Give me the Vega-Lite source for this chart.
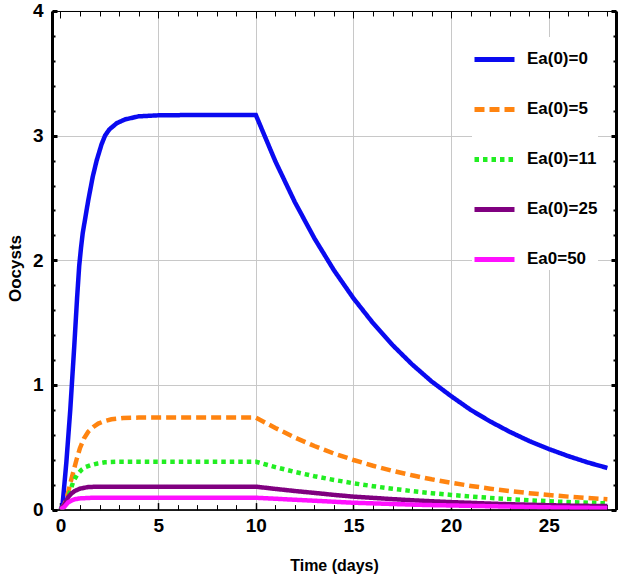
{
  "$schema": "https://vega.github.io/schema/vega-lite/v6.json",
  "width": 564,
  "height": 498.6,
  "autosize": {"type": "none"},
  "padding": {"left": 52, "top": 11, "right": 3, "bottom": 68},
  "background": "white",
  "config": {
    "view": {"stroke": "black", "strokeWidth": 1},
    "font": "Liberation Sans, Arial, sans-serif"
  },
  "data": {"values": [
    {"t": 0, "v": 0, "s": "Ea(0)=0"},
    {"t": 0.1, "v": 0.03, "s": "Ea(0)=0"},
    {"t": 0.3, "v": 0.38, "s": "Ea(0)=0"},
    {"t": 0.5, "v": 0.8, "s": "Ea(0)=0"},
    {"t": 0.7, "v": 1.3, "s": "Ea(0)=0"},
    {"t": 0.85, "v": 1.7, "s": "Ea(0)=0"},
    {"t": 0.96, "v": 1.96, "s": "Ea(0)=0"},
    {"t": 1.05, "v": 2.1, "s": "Ea(0)=0"},
    {"t": 1.14, "v": 2.22, "s": "Ea(0)=0"},
    {"t": 1.42, "v": 2.48, "s": "Ea(0)=0"},
    {"t": 1.65, "v": 2.67, "s": "Ea(0)=0"},
    {"t": 1.85, "v": 2.8, "s": "Ea(0)=0"},
    {"t": 2.1, "v": 2.93, "s": "Ea(0)=0"},
    {"t": 2.28, "v": 3.0, "s": "Ea(0)=0"},
    {"t": 2.5, "v": 3.05, "s": "Ea(0)=0"},
    {"t": 2.88, "v": 3.1, "s": "Ea(0)=0"},
    {"t": 3.3, "v": 3.13, "s": "Ea(0)=0"},
    {"t": 4, "v": 3.155, "s": "Ea(0)=0"},
    {"t": 5, "v": 3.163, "s": "Ea(0)=0"},
    {"t": 7, "v": 3.166, "s": "Ea(0)=0"},
    {"t": 10, "v": 3.166, "s": "Ea(0)=0"},
    {"t": 11, "v": 2.794, "s": "Ea(0)=0"},
    {"t": 12, "v": 2.466, "s": "Ea(0)=0"},
    {"t": 13, "v": 2.176, "s": "Ea(0)=0"},
    {"t": 14, "v": 1.92, "s": "Ea(0)=0"},
    {"t": 15, "v": 1.695, "s": "Ea(0)=0"},
    {"t": 16, "v": 1.496, "s": "Ea(0)=0"},
    {"t": 17, "v": 1.32, "s": "Ea(0)=0"},
    {"t": 18, "v": 1.165, "s": "Ea(0)=0"},
    {"t": 19, "v": 1.028, "s": "Ea(0)=0"},
    {"t": 20, "v": 0.91, "s": "Ea(0)=0"},
    {"t": 21, "v": 0.8, "s": "Ea(0)=0"},
    {"t": 22, "v": 0.707, "s": "Ea(0)=0"},
    {"t": 23, "v": 0.624, "s": "Ea(0)=0"},
    {"t": 24, "v": 0.55, "s": "Ea(0)=0"},
    {"t": 25, "v": 0.486, "s": "Ea(0)=0"},
    {"t": 26, "v": 0.429, "s": "Ea(0)=0"},
    {"t": 27, "v": 0.378, "s": "Ea(0)=0"},
    {"t": 28, "v": 0.334, "s": "Ea(0)=0"},

    {"t": 0, "v": 0, "s": "Ea(0)=5"},
    {"t": 0.2, "v": 0.04, "s": "Ea(0)=5"},
    {"t": 0.36, "v": 0.117, "s": "Ea(0)=5"},
    {"t": 0.5, "v": 0.21, "s": "Ea(0)=5"},
    {"t": 0.65, "v": 0.3, "s": "Ea(0)=5"},
    {"t": 0.82, "v": 0.4, "s": "Ea(0)=5"},
    {"t": 0.99, "v": 0.49, "s": "Ea(0)=5"},
    {"t": 1.2, "v": 0.57, "s": "Ea(0)=5"},
    {"t": 1.42, "v": 0.625, "s": "Ea(0)=5"},
    {"t": 1.7, "v": 0.665, "s": "Ea(0)=5"},
    {"t": 1.93, "v": 0.69, "s": "Ea(0)=5"},
    {"t": 2.3, "v": 0.712, "s": "Ea(0)=5"},
    {"t": 2.61, "v": 0.725, "s": "Ea(0)=5"},
    {"t": 3.2, "v": 0.735, "s": "Ea(0)=5"},
    {"t": 4, "v": 0.738, "s": "Ea(0)=5"},
    {"t": 10, "v": 0.738, "s": "Ea(0)=5"},
    {"t": 11, "v": 0.655, "s": "Ea(0)=5"},
    {"t": 12, "v": 0.578, "s": "Ea(0)=5"},
    {"t": 13, "v": 0.51, "s": "Ea(0)=5"},
    {"t": 14, "v": 0.45, "s": "Ea(0)=5"},
    {"t": 15, "v": 0.398, "s": "Ea(0)=5"},
    {"t": 16, "v": 0.352, "s": "Ea(0)=5"},
    {"t": 17, "v": 0.311, "s": "Ea(0)=5"},
    {"t": 18, "v": 0.275, "s": "Ea(0)=5"},
    {"t": 19, "v": 0.243, "s": "Ea(0)=5"},
    {"t": 20, "v": 0.215, "s": "Ea(0)=5"},
    {"t": 21, "v": 0.19, "s": "Ea(0)=5"},
    {"t": 22, "v": 0.168, "s": "Ea(0)=5"},
    {"t": 23, "v": 0.149, "s": "Ea(0)=5"},
    {"t": 24, "v": 0.132, "s": "Ea(0)=5"},
    {"t": 25, "v": 0.117, "s": "Ea(0)=5"},
    {"t": 26, "v": 0.104, "s": "Ea(0)=5"},
    {"t": 27, "v": 0.093, "s": "Ea(0)=5"},
    {"t": 28, "v": 0.083, "s": "Ea(0)=5"},

    {"t": 0, "v": 0, "s": "Ea(0)=11"},
    {"t": 0.15, "v": 0.02, "s": "Ea(0)=11"},
    {"t": 0.31, "v": 0.063, "s": "Ea(0)=11"},
    {"t": 0.48, "v": 0.14, "s": "Ea(0)=11"},
    {"t": 0.65, "v": 0.224, "s": "Ea(0)=11"},
    {"t": 0.85, "v": 0.28, "s": "Ea(0)=11"},
    {"t": 1.07, "v": 0.318, "s": "Ea(0)=11"},
    {"t": 1.3, "v": 0.342, "s": "Ea(0)=11"},
    {"t": 1.58, "v": 0.358, "s": "Ea(0)=11"},
    {"t": 1.9, "v": 0.37, "s": "Ea(0)=11"},
    {"t": 2.27, "v": 0.38, "s": "Ea(0)=11"},
    {"t": 3, "v": 0.384, "s": "Ea(0)=11"},
    {"t": 10, "v": 0.384, "s": "Ea(0)=11"},
    {"t": 11, "v": 0.341, "s": "Ea(0)=11"},
    {"t": 12, "v": 0.302, "s": "Ea(0)=11"},
    {"t": 13, "v": 0.268, "s": "Ea(0)=11"},
    {"t": 14, "v": 0.238, "s": "Ea(0)=11"},
    {"t": 15, "v": 0.211, "s": "Ea(0)=11"},
    {"t": 16, "v": 0.188, "s": "Ea(0)=11"},
    {"t": 17, "v": 0.167, "s": "Ea(0)=11"},
    {"t": 18, "v": 0.148, "s": "Ea(0)=11"},
    {"t": 19, "v": 0.132, "s": "Ea(0)=11"},
    {"t": 20, "v": 0.118, "s": "Ea(0)=11"},
    {"t": 21, "v": 0.105, "s": "Ea(0)=11"},
    {"t": 22, "v": 0.094, "s": "Ea(0)=11"},
    {"t": 23, "v": 0.084, "s": "Ea(0)=11"},
    {"t": 24, "v": 0.075, "s": "Ea(0)=11"},
    {"t": 25, "v": 0.067, "s": "Ea(0)=11"},
    {"t": 26, "v": 0.06, "s": "Ea(0)=11"},
    {"t": 27, "v": 0.055, "s": "Ea(0)=11"},
    {"t": 28, "v": 0.05, "s": "Ea(0)=11"},

    {"t": 0, "v": 0, "s": "Ea(0)=25"},
    {"t": 0.2, "v": 0.035, "s": "Ea(0)=25"},
    {"t": 0.39, "v": 0.1, "s": "Ea(0)=25"},
    {"t": 0.55, "v": 0.128, "s": "Ea(0)=25"},
    {"t": 0.73, "v": 0.149, "s": "Ea(0)=25"},
    {"t": 1.0, "v": 0.168, "s": "Ea(0)=25"},
    {"t": 1.42, "v": 0.181, "s": "Ea(0)=25"},
    {"t": 2, "v": 0.184, "s": "Ea(0)=25"},
    {"t": 10, "v": 0.184, "s": "Ea(0)=25"},
    {"t": 11, "v": 0.166, "s": "Ea(0)=25"},
    {"t": 12, "v": 0.149, "s": "Ea(0)=25"},
    {"t": 13, "v": 0.134, "s": "Ea(0)=25"},
    {"t": 14, "v": 0.118, "s": "Ea(0)=25"},
    {"t": 15, "v": 0.104, "s": "Ea(0)=25"},
    {"t": 16, "v": 0.094, "s": "Ea(0)=25"},
    {"t": 17, "v": 0.084, "s": "Ea(0)=25"},
    {"t": 18, "v": 0.075, "s": "Ea(0)=25"},
    {"t": 19, "v": 0.067, "s": "Ea(0)=25"},
    {"t": 20, "v": 0.06, "s": "Ea(0)=25"},
    {"t": 21, "v": 0.054, "s": "Ea(0)=25"},
    {"t": 22, "v": 0.048, "s": "Ea(0)=25"},
    {"t": 23, "v": 0.043, "s": "Ea(0)=25"},
    {"t": 24, "v": 0.039, "s": "Ea(0)=25"},
    {"t": 25, "v": 0.035, "s": "Ea(0)=25"},
    {"t": 26, "v": 0.032, "s": "Ea(0)=25"},
    {"t": 27, "v": 0.03, "s": "Ea(0)=25"},
    {"t": 28, "v": 0.028, "s": "Ea(0)=25"},

    {"t": 0, "v": 0, "s": "Ea0=50"},
    {"t": 0.2, "v": 0.022, "s": "Ea0=50"},
    {"t": 0.39, "v": 0.058, "s": "Ea0=50"},
    {"t": 0.55, "v": 0.072, "s": "Ea0=50"},
    {"t": 0.73, "v": 0.083, "s": "Ea0=50"},
    {"t": 1.0, "v": 0.09, "s": "Ea0=50"},
    {"t": 1.5, "v": 0.094, "s": "Ea0=50"},
    {"t": 2, "v": 0.095, "s": "Ea0=50"},
    {"t": 10, "v": 0.095, "s": "Ea0=50"},
    {"t": 11, "v": 0.087, "s": "Ea0=50"},
    {"t": 12, "v": 0.079, "s": "Ea0=50"},
    {"t": 13, "v": 0.071, "s": "Ea0=50"},
    {"t": 14, "v": 0.063, "s": "Ea0=50"},
    {"t": 15, "v": 0.055, "s": "Ea0=50"},
    {"t": 16, "v": 0.05, "s": "Ea0=50"},
    {"t": 17, "v": 0.045, "s": "Ea0=50"},
    {"t": 18, "v": 0.04, "s": "Ea0=50"},
    {"t": 19, "v": 0.036, "s": "Ea0=50"},
    {"t": 20, "v": 0.033, "s": "Ea0=50"},
    {"t": 21, "v": 0.03, "s": "Ea0=50"},
    {"t": 22, "v": 0.027, "s": "Ea0=50"},
    {"t": 23, "v": 0.024, "s": "Ea0=50"},
    {"t": 24, "v": 0.021, "s": "Ea0=50"},
    {"t": 25, "v": 0.018, "s": "Ea0=50"},
    {"t": 26, "v": 0.016, "s": "Ea0=50"},
    {"t": 27, "v": 0.014, "s": "Ea0=50"},
    {"t": 28, "v": 0.012, "s": "Ea0=50"}
  ]},
  "resolve": {"axis": {"x": "independent", "y": "independent"}},
  "layer": [
    {
      "mark": {"type": "line", "strokeWidth": 4.5, "strokeCap": "butt", "clip": true},
      "encoding": {
        "x": {
          "field": "t", "type": "quantitative",
          "scale": {"domain": [-0.435, 28.44], "nice": false, "zero": false},
          "axis": {
            "orient": "bottom",
            "title": "Time (days)",
            "titleFontSize": 16, "titleFontWeight": "bold", "titleColor": "black",
            "titlePadding": 22,
            "values": [0,1,2,3,4,5,6,7,8,9,10,11,12,13,14,15,16,17,18,19,20,21,22,23,24,25,26,27,28],
            "format": "d",
            "labelExpr": "datum.value % 5 === 0 ? datum.label : ''",
            "labelFontSize": 19, "labelFontWeight": "bold", "labelColor": "black",
            "labelPadding": 14,
            "labelFlush": false,
            "domainColor": "black", "domainWidth": 1.5,
            "tickColor": "black",
            "tickSize": {"condition": {"test": "datum.value % 5 === 0", "value": -7}, "value": -5},
            "tickWidth": {"condition": {"test": "datum.value % 5 === 0", "value": 1.5}, "value": 1},
            "grid": true,
            "gridColor": "#c8c8c8", "gridWidth": 1,
            "gridOpacity": {"condition": {"test": "datum.value % 5 === 0 && datum.value > 0", "value": 1}, "value": 0}
          }
        },
        "y": {
          "field": "v", "type": "quantitative",
          "scale": {"domain": [0, 4], "nice": false},
          "axis": {
            "orient": "left",
            "title": "Oocysts",
            "titleFontSize": 17, "titleFontWeight": "bold", "titleColor": "black",
            "titleX": -32,
            "titleY": 257,
            "titleBaseline": "alphabetic",
            "values": [0,0.2,0.4,0.6,0.8,1,1.2,1.4,1.6,1.8,2,2.2,2.4,2.6,2.8,3,3.2,3.4,3.6,3.8,4],
            "format": "~g",
            "labelExpr": "datum.value % 1 === 0 ? datum.label : ''",
            "labelFontSize": 19, "labelFontWeight": "bold", "labelColor": "black",
            "labelPadding": 14,
            "labelFlush": false,
            "domainColor": "black", "domainWidth": 3,
            "tickColor": "black",
            "tickSize": {"condition": {"test": "datum.value % 1 === 0", "value": -5}, "value": -3},
            "tickWidth": {"condition": {"test": "datum.value % 1 === 0", "value": 3}, "value": 2},
            "grid": true,
            "gridColor": "#c8c8c8", "gridWidth": 1,
            "gridOpacity": {"condition": {"test": "datum.value % 1 === 0 && datum.value > 0 && datum.value < 4", "value": 1}, "value": 0}
          }
        },
        "color": {
          "field": "s", "type": "nominal",
          "scale": {
            "domain": ["Ea(0)=0", "Ea(0)=5", "Ea(0)=11", "Ea(0)=25", "Ea0=50"],
            "range": ["#0a0af0", "#ff8410", "#22ee22", "#800080", "#ff10ff"]
          },
          "legend": {
            "title": null,
            "orient": "none",
            "legendX": 420,
            "legendY": 26,
            "symbolType": "stroke",
            "symbolSize": 1600,
            "symbolStrokeWidth": 5,
            "labelFontSize": 17,
            "labelFontWeight": "bold",
            "labelColor": "black",
            "labelOffset": 10,
            "rowPadding": 17,
            "fillColor": "white"
          }
        },
        "strokeDash": {
          "field": "s", "type": "nominal",
          "scale": {
            "domain": ["Ea(0)=0", "Ea(0)=5", "Ea(0)=11", "Ea(0)=25", "Ea0=50"],
            "range": [[1, 0], [10, 5], [4.5, 4], [1, 0], [1, 0]]
          },
          "legend": null
        }
      }
    },
    {
      "mark": {"type": "point", "opacity": 0},
      "encoding": {
        "x": {
          "field": "t", "type": "quantitative",
          "axis": {
            "orient": "top",
            "title": null,
            "values": [0,1,2,3,4,5,6,7,8,9,10,11,12,13,14,15,16,17,18,19,20,21,22,23,24,25,26,27,28],
            "labels": false,
            "grid": false,
            "domainColor": "black", "domainWidth": 1,
            "tickColor": "black",
            "tickSize": {"condition": {"test": "datum.value % 5 === 0", "value": -7}, "value": -5},
            "tickWidth": 1
          }
        },
        "y": {
          "field": "v", "type": "quantitative",
          "axis": {
            "orient": "right",
            "title": null,
            "values": [0,0.2,0.4,0.6,0.8,1,1.2,1.4,1.6,1.8,2,2.2,2.4,2.6,2.8,3,3.2,3.4,3.6,3.8,4],
            "labels": false,
            "grid": false,
            "domainColor": "black", "domainWidth": 3,
            "tickColor": "black",
            "tickSize": {"condition": {"test": "datum.value % 1 === 0", "value": -5}, "value": -3},
            "tickWidth": {"condition": {"test": "datum.value % 1 === 0", "value": 3}, "value": 2}
          }
        }
      }
    }
  ]
}
